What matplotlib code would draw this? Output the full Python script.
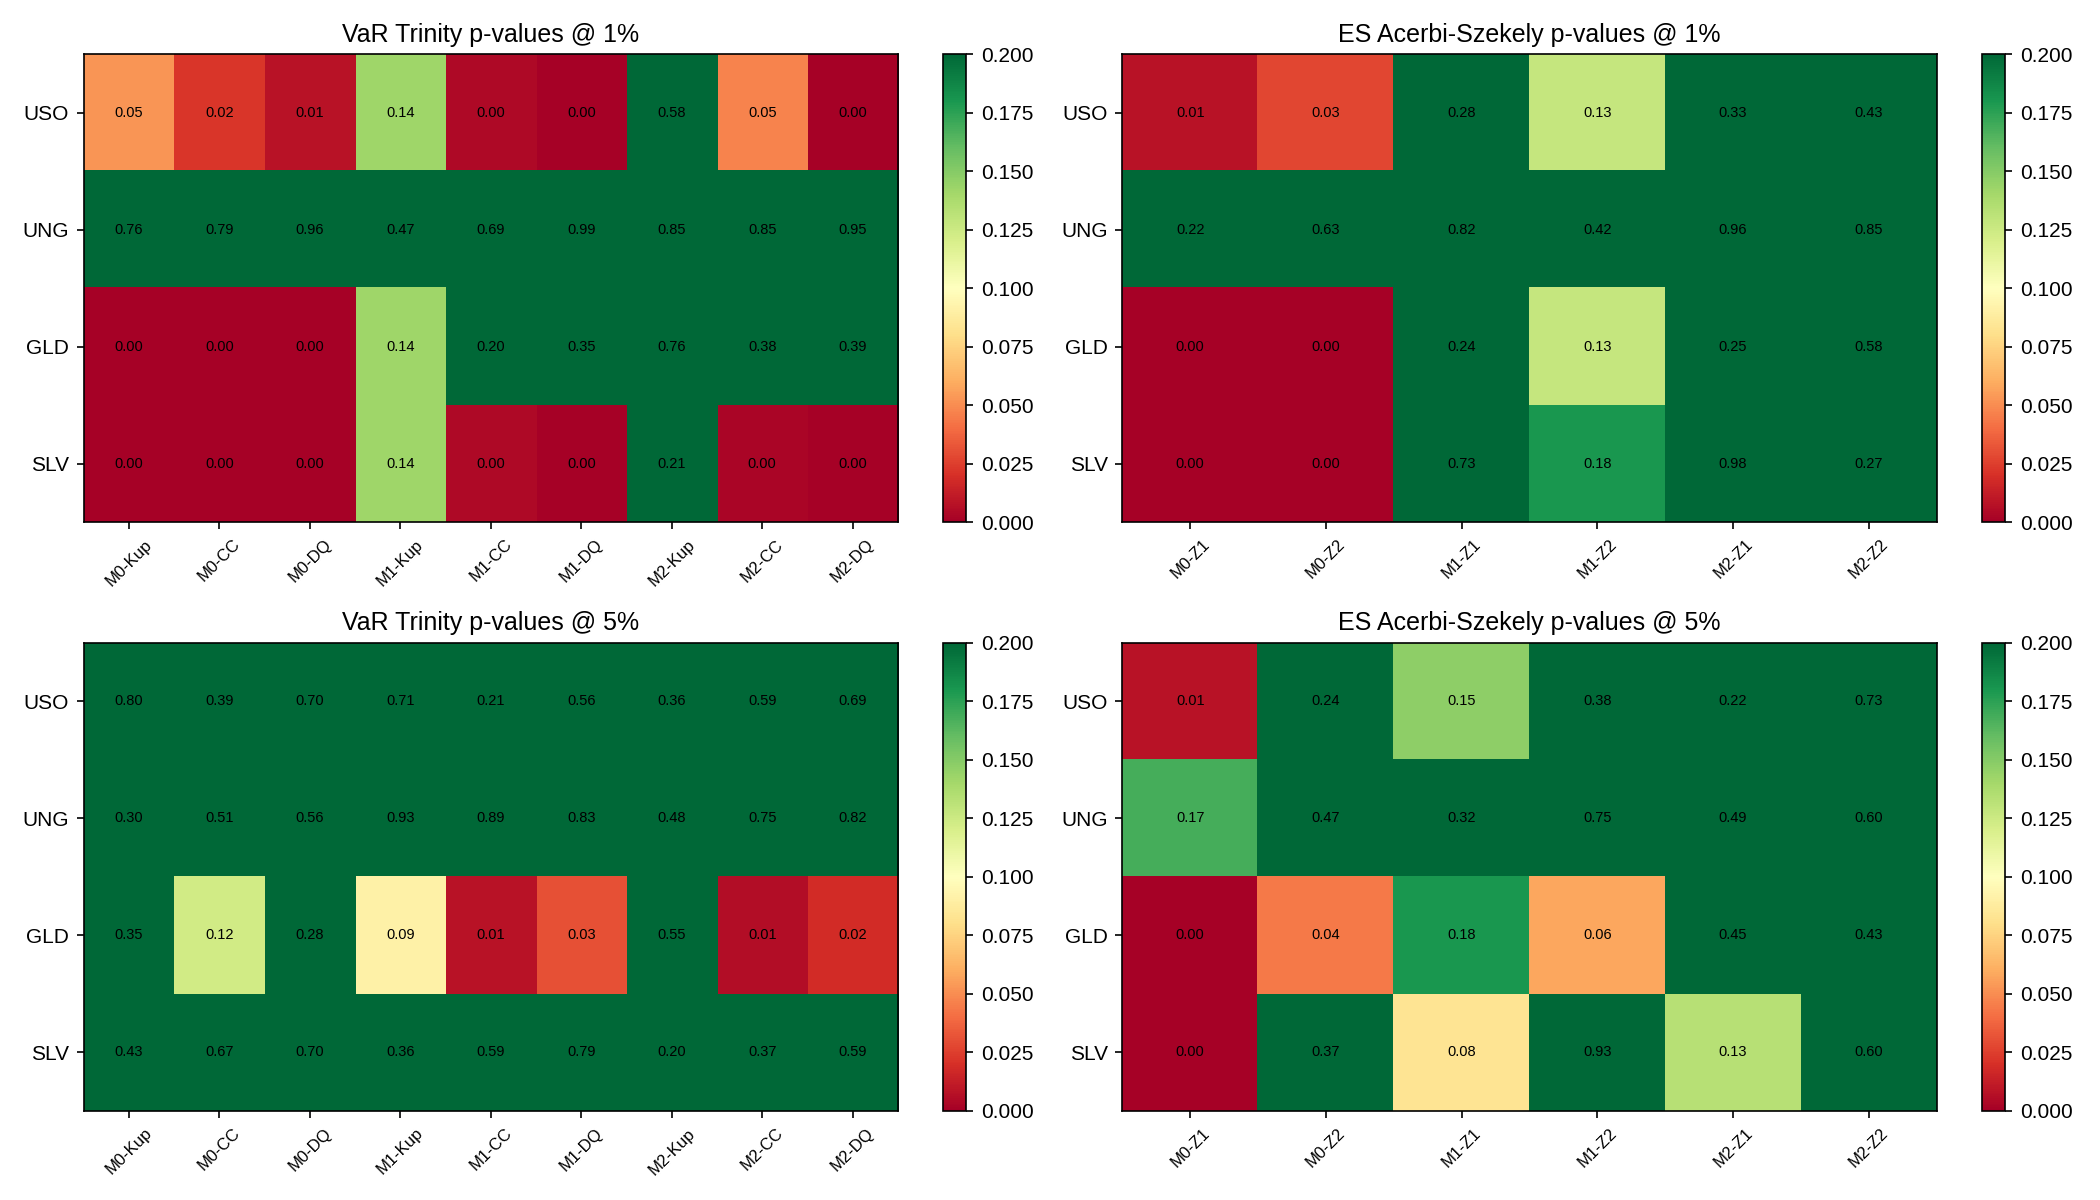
import numpy as np
import matplotlib
matplotlib.use("Agg")
import matplotlib.pyplot as plt

plt.rcParams["font.family"] = ["Liberation Sans", "DejaVu Sans"]

assets = ["USO", "UNG", "GLD", "SLV"]
var_tests = ["M0-Kup", "M0-CC", "M0-DQ", "M1-Kup", "M1-CC", "M1-DQ", "M2-Kup", "M2-CC", "M2-DQ"]
es_tests = ["M0-Z1", "M0-Z2", "M1-Z1", "M1-Z2", "M2-Z1", "M2-Z2"]

# p-values (colour used to refine beyond 2 decimals)
var_1 = [
    [0.053, 0.022, 0.008, 0.142, 0.004, 0.001, 0.58, 0.047, 0.001],
    [0.76, 0.79, 0.96, 0.47, 0.69, 0.99, 0.85, 0.85, 0.95],
    [0.001, 0.001, 0.001, 0.142, 0.20, 0.35, 0.76, 0.38, 0.39],
    [0.001, 0.001, 0.001, 0.142, 0.004, 0.001, 0.21, 0.003, 0.001],
]
es_1 = [
    [0.008, 0.028, 0.28, 0.128, 0.33, 0.43],
    [0.22, 0.63, 0.82, 0.42, 0.96, 0.85],
    [0.001, 0.001, 0.24, 0.128, 0.25, 0.58],
    [0.001, 0.001, 0.73, 0.18, 0.98, 0.27],
]
var_5 = [
    [0.80, 0.39, 0.70, 0.71, 0.21, 0.56, 0.36, 0.59, 0.69],
    [0.30, 0.51, 0.56, 0.93, 0.89, 0.83, 0.48, 0.75, 0.82],
    [0.35, 0.123, 0.28, 0.091, 0.008, 0.031, 0.55, 0.006, 0.018],
    [0.43, 0.67, 0.70, 0.36, 0.59, 0.79, 0.20, 0.37, 0.59],
]
es_5 = [
    [0.008, 0.24, 0.147, 0.38, 0.22, 0.73],
    [0.168, 0.47, 0.32, 0.75, 0.49, 0.60],
    [0.001, 0.044, 0.18, 0.058, 0.45, 0.43],
    [0.001, 0.37, 0.083, 0.93, 0.133, 0.60],
]

panels = [
    (var_1, var_tests, "VaR Trinity p-values @ 1%"),
    (es_1, es_tests, "ES Acerbi-Szekely p-values @ 1%"),
    (var_5, var_tests, "VaR Trinity p-values @ 5%"),
    (es_5, es_tests, "ES Acerbi-Szekely p-values @ 5%"),
]

fig, axes = plt.subplots(2, 2, figsize=(14, 8), dpi=150)

for ax, (vals, cols, title) in zip(axes.flat, panels):
    arr = np.array(vals)
    im = ax.imshow(arr, cmap="RdYlGn", vmin=0, vmax=0.2, aspect="auto")
    ax.set_xticks(range(len(cols)))
    ax.set_xticklabels(cols, rotation=45, fontsize=8)
    ax.set_yticks(range(len(assets)))
    ax.set_yticklabels(assets)
    for i in range(arr.shape[0]):
        for j in range(arr.shape[1]):
            ax.text(j, i, f"{arr[i, j]:.2f}", ha="center", va="center", fontsize=7)
    ax.set_title(title, fontsize=12)
    fig.colorbar(im, ax=ax, fraction=0.046, pad=0.05)

fig.tight_layout()
fig.savefig("out.png", dpi=150)
